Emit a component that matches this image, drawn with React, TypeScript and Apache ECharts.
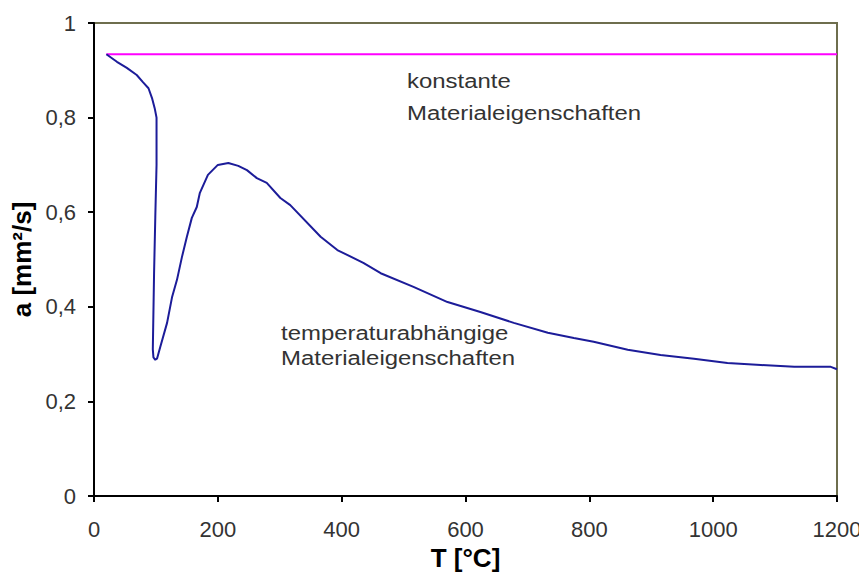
import React, { useEffect, useRef } from "react";
import * as echarts from "echarts";

// Thermal diffusivity a [mm²/s] versus temperature T [°C]
const constantT: number[] = [20, 1200];
const constantA: number[] = [0.934, 0.934];

const variableT: number[] = [
  20, 37, 53, 69, 79, 88, 94, 98, 101, 101, 99, 97, 95, 96, 99, 102, 107, 118,
  126, 134, 142, 150, 158, 166, 171, 184, 200, 217, 233, 247, 263, 279, 301, 317,
  366, 393, 435, 463, 516, 571, 624, 678, 733, 775, 807, 862, 915, 969, 1023,
  1077, 1131, 1190, 1200,
];
const variableA: number[] = [
  0.934, 0.918, 0.905, 0.89, 0.875, 0.862, 0.84, 0.82, 0.8, 0.7, 0.59, 0.47,
  0.31, 0.293, 0.288, 0.291, 0.315, 0.366, 0.42, 0.457, 0.505, 0.548, 0.588,
  0.611, 0.641, 0.679, 0.7, 0.704, 0.698, 0.689, 0.672, 0.662, 0.63, 0.615,
  0.548, 0.52, 0.493, 0.471, 0.442, 0.41, 0.389, 0.366, 0.345, 0.334, 0.326,
  0.309, 0.298, 0.29, 0.281, 0.277, 0.273, 0.273, 0.268,
];

const labelConstant: string[] = ["konstante", "Materialeigenschaften"];
const labelVariable: string[] = ["temperaturabhängige", "Materialeigenschaften"];

const FONT = "'Liberation Sans', Arial, sans-serif";

// One text element per annotation line, slightly widened like the original print
const annotationLine = (text: string, x: number, y: number) => ({
  type: "text",
  x,
  y,
  scaleX: 1.14,
  style: {
    text,
    font: `21px ${FONT}`,
    fill: "#333",
    align: "left",
    verticalAlign: "middle",
  },
});

export default function App() {
  const ref = useRef<HTMLDivElement>(null);

  useEffect(() => {
    if (!ref.current) return;
    const chart = echarts.init(ref.current, undefined, { renderer: "svg" });

    const pairs = (xs: number[], ys: number[]) => xs.map((x, i) => [x, ys[i]]);

    chart.setOption({
      animation: false,
      backgroundColor: "#ffffff",
      grid: {
        left: 94,
        right: 30,
        top: 23,
        bottom: 89,
        show: true,
        borderColor: "#6e6e4e",
        borderWidth: 2,
        backgroundColor: "transparent",
      },
      xAxis: {
        type: "value",
        min: 0,
        max: 1200,
        interval: 200,
        name: "T [°C]",
        nameLocation: "middle",
        nameGap: 48,
        nameTextStyle: { fontFamily: FONT, fontSize: 26, fontWeight: "bold", color: "#000" },
        axisLine: { show: true, lineStyle: { color: "#000", width: 2 } },
        axisTick: { show: true, inside: false, length: 6, lineStyle: { color: "#000", width: 2 } },
        axisLabel: {
          margin: 22,
          fontFamily: FONT,
          fontSize: 22,
          color: "#333",
          formatter: (v: number) => String(v),
        },
        splitLine: { show: false },
      },
      yAxis: {
        type: "value",
        min: 0,
        max: 1,
        interval: 0.2,
        name: "a [mm²/s]",
        nameLocation: "middle",
        nameGap: 48,
        nameRotate: 90,
        nameTextStyle: { fontFamily: FONT, fontSize: 26, fontWeight: "bold", color: "#000" },
        axisLine: { show: true, lineStyle: { color: "#000", width: 2 } },
        axisTick: { show: true, inside: false, length: 6, lineStyle: { color: "#000", width: 2 } },
        axisLabel: {
          margin: 18,
          fontFamily: FONT,
          fontSize: 22,
          color: "#333",
          formatter: (v: number) => String(Number(v.toFixed(1))).replace(".", ","),
        },
        splitLine: { show: false },
      },
      graphic: [
        annotationLine(labelConstant[0], 407, 81),
        annotationLine(labelConstant[1], 407, 113),
        annotationLine(labelVariable[0], 281, 333),
        annotationLine(labelVariable[1], 281, 358),
      ],
      series: [
        {
          type: "line",
          data: pairs(constantT, constantA),
          showSymbol: false,
          lineStyle: { color: "#ff00ff", width: 2 },
          z: 3,
        },
        {
          type: "line",
          data: pairs(variableT, variableA),
          showSymbol: false,
          lineStyle: { color: "#1c1c99", width: 2 },
          z: 4,
        },
      ],
    });

    return () => chart.dispose();
  }, []);

  return <div ref={ref} style={{ width: 867, height: 585, margin: -8 }} />;
}
